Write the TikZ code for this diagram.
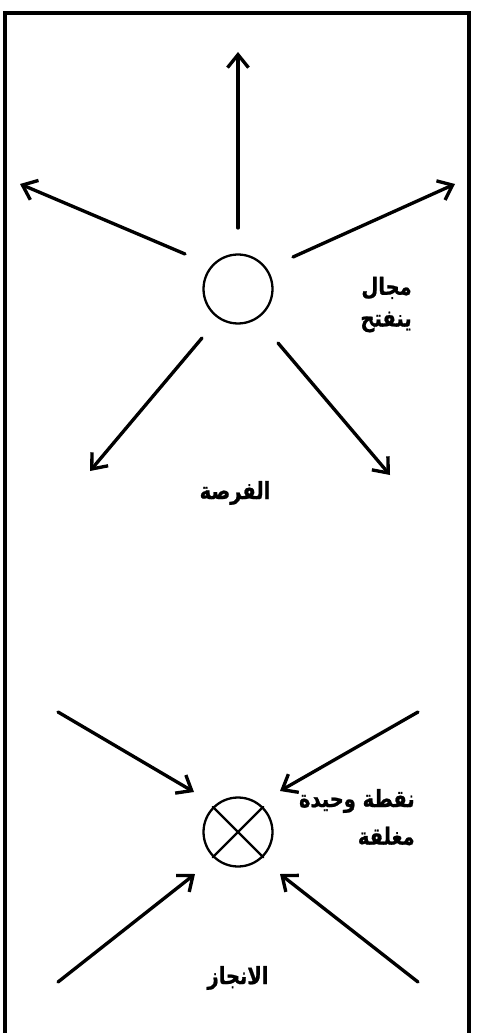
\documentclass[tikz,border=0pt]{standalone}
\usepackage{fontspec}
\usepackage{tikz}
\usetikzlibrary{arrows.meta}
\TeXXeTstate=1
\newfontfamily\arabicfont[Script=Arabic,BoldFont={DejaVu Sans Bold},BoldFeatures={FakeStretch=0.82,FakeBold=0.9}]{DejaVu Sans}

\begin{document}
\begin{tikzpicture}[x=0.02cm,y=-0.02cm,>={Straight Barb[length=2.6mm,width=4.2mm,line width=1.9pt]},line cap=round,
  ray/.style={->,line width=1.9pt},
  ring/.style={circle,draw,line width=1.3pt,minimum size=1.38cm,inner sep=0pt},
  word/.style={font=\arabicfont\bfseries\fontsize{13.5}{17}\selectfont,inner sep=0pt}]
\useasboundingbox (0,0) rectangle (476,1033);
\draw[line width=1.8pt,line cap=butt] (5,1033) -- (5,13) -- (469,13) -- (469,1033);
% opening field
\node[ring] (open) at (238,289) {};
\coordinate (up0) at (238,228);
\coordinate (up1) at (238,52);
\coordinate (ul0) at (185,254);
\coordinate (ul1) at (20,184);
\coordinate (ur0) at (293,257);
\coordinate (ur1) at (455,184);
\coordinate (dl0) at (202,338);
\coordinate (dl1) at (90,471);
\coordinate (dr0) at (278,343);
\coordinate (dr1) at (390,475);
\draw[ray] (up0) -- (up1);
\draw[ray] (ul0) -- (ul1);
\draw[ray] (ur0) -- (ur1);
\draw[ray] (dl0) -- (dl1);
\draw[ray] (dr0) -- (dr1);
\node[word,anchor=east] (field1) at (412,288) {\beginR مجال\endR};
\node[word,anchor=east] (field2) at (412,322) {\beginR ينفتح\endR};
\node[word] (chance) at (235,493) {\beginR الفرصة\endR};
% closed point
\node[ring] (shut) at (238,832) {};
\draw[line width=1.3pt] (shut.45) -- (shut.225);
\draw[line width=1.3pt] (shut.135) -- (shut.315);
\coordinate (a0) at (58,712);
\coordinate (a1) at (194,792);
\coordinate (b0) at (418,712);
\coordinate (b1) at (280,791);
\coordinate (c0) at (58,982);
\coordinate (c1) at (195,874);
\coordinate (d0) at (418,982);
\coordinate (d1) at (280,874);
\draw[ray] (a0) -- (a1);
\draw[ray] (b0) -- (b1);
\draw[ray] (c0) -- (c1);
\draw[ray] (d0) -- (d1);
\node[word,anchor=east] (point1) at (415,801) {\beginR نقطة وحيدة\endR};
\node[word,anchor=east] (point2) at (415,836) {\beginR مغلقة\endR};
\node[word] (done) at (238,978) {\beginR الانجاز\endR};
\end{tikzpicture}
\end{document}
